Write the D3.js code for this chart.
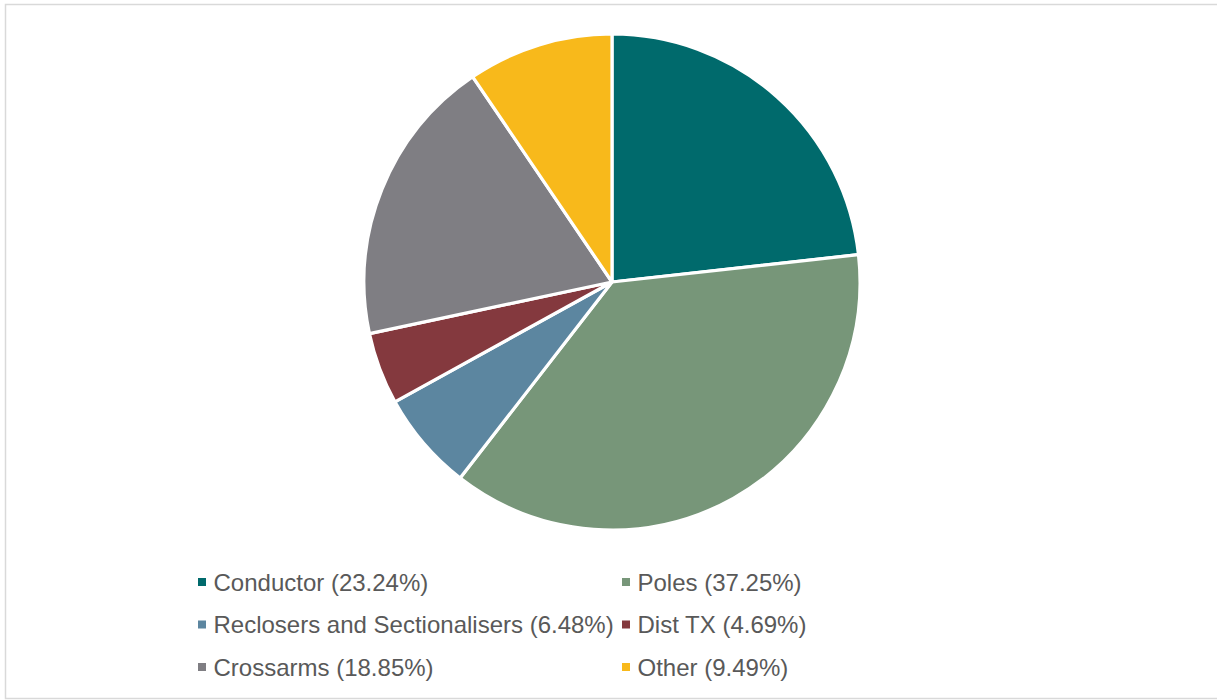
<!DOCTYPE html>
<html>
<head>
<meta charset="utf-8">
<script src="https://cdn.jsdelivr.net/npm/d3@7"></script>
<style>
  html, body { margin: 0; padding: 0; background: #fff; }
  svg { display: block; }
</style>
</head>
<body>
<svg id="chart" width="1217" height="700"></svg>
<script>
// Share of defects by asset category
const categories = ["Conductor", "Poles", "Reclosers and Sectionalisers", "Dist TX", "Crossarms", "Other"];
const shares = [23.24, 37.25, 6.48, 4.69, 18.85, 9.49];
const colours = ["#006a6c", "#779679", "#5c86a0", "#84393e", "#7f7e83", "#f8b91b"];

const svg = d3.select("#chart");

// chart frame (right edge runs past the page)
svg.append("rect")
  .attr("x", 5.5).attr("y", 4.5)
  .attr("width", 1220).attr("height", 694)
  .attr("fill", "#fff")
  .attr("stroke", "#d9d9d9")
  .attr("stroke-width", 1.5);

const cx = 612, cy = 282, radius = 248;

const pie = d3.pie().sort(null).value(d => d.value);
const arc = d3.arc().innerRadius(0).outerRadius(radius);
const data = categories.map((c, i) => ({ name: c, value: shares[i], colour: colours[i] }));

svg.append("g")
  .attr("transform", `translate(${cx},${cy})`)
  .selectAll("path")
  .data(pie(data))
  .join("path")
  .attr("d", arc)
  .attr("fill", d => d.data.colour)
  .attr("stroke", "#fff")
  .attr("stroke-width", 3.2)
  .attr("stroke-linejoin", "round");

// legend: two columns, three rows
const colX = [198, 622];
const rowY = [582, 624.5, 667];
const fontSize = 24;
const legend = svg.append("g");
data.forEach((d, i) => {
  const x = colX[i % 2], y = rowY[Math.floor(i / 2)];
  legend.append("rect")
    .attr("x", x).attr("y", y - 4)
    .attr("width", 8).attr("height", 8)
    .attr("fill", d.colour);
  legend.append("text")
    .attr("x", x + 15.5)
    .attr("y", y + fontSize * 0.716 / 2)
    .attr("font-family", "Liberation Sans, Arial, sans-serif")
    .attr("font-size", fontSize)
    .attr("fill", "#595959")
    .text(`${d.name} (${d.value.toFixed(2)}%)`);
});
</script>
</body>
</html>
